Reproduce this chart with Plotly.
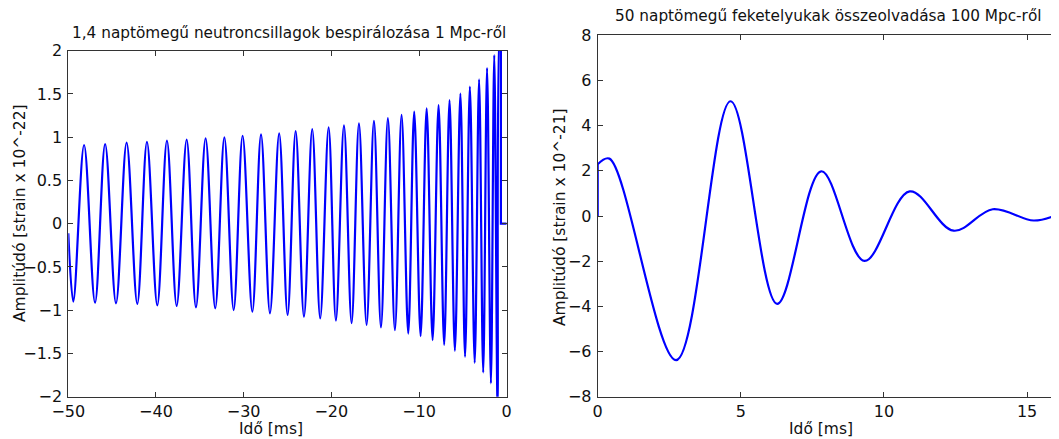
import plotly.graph_objects as go

# ---------------- data ----------------
# Left: neutron-star inspiral (time in ms, strain x 1e-22)
ns_start_t = [-50.0]
ns_start_v = [-0.11]
ns_peak_t = [-48.2, -45.8, -43.35, -41.03, -38.75, -36.5, -34.34, -32.2, -30.12,
             -28.02, -25.95, -24.07, -22.18, -20.31, -18.56, -16.85, -15.14,
             -13.55, -11.99, -10.55, -9.13, -7.77, -6.52, -5.28, -4.20, -3.15,
             -2.24, -1.42, -0.72]
ns_peak_v = [0.91, 0.921, 0.937, 0.945, 0.96, 0.971, 0.987, 0.999, 1.017,
             1.033, 1.045, 1.07, 1.095, 1.114, 1.137, 1.16, 1.19,
             1.22, 1.257, 1.295, 1.334, 1.372, 1.43, 1.505, 1.584, 1.67,
             1.80, 1.95, 2.3]
ns_trough_t = [-49.43, -46.95, -44.56, -42.13, -39.85, -37.64, -35.44, -33.24,
               -31.14, -29.01, -27.0, -24.99, -23.12, -21.27, -19.48, -17.69,
               -15.98, -14.34, -12.75, -11.23, -9.82, -8.45, -7.13, -5.91,
               -4.75, -3.65, -2.68, -1.80, -1.04]
ns_trough_v = [-0.90, -0.913, -0.92, -0.928, -0.944, -0.951, -0.967, -0.978,
               -0.998, -1.017, -1.036, -1.055, -1.075, -1.094, -1.12, -1.15,
               -1.17, -1.20, -1.23, -1.27, -1.30, -1.345, -1.40, -1.47,
               -1.54, -1.61, -1.72, -1.845, -2.1]
ns_tail_t = [-0.66, -0.66, 0.0]
ns_tail_v = [2.3, 0.0, 0.0]

# Right: black-hole merger ringdown (time in ms, strain x 1e-21)
bh_jump_t = [0.0, 0.0]
bh_jump_v = [0.0, 2.29]
bh_t = [0.0, 0.41, 2.74, 4.64, 6.27, 7.81, 9.32, 10.90, 12.43, 13.80, 15.23, 16.0]
bh_v = [2.29, 2.54, -6.38, 5.08, -3.89, 1.98, -1.99, 1.09, -0.65, 0.30, -0.20, 0.03]

left_title = "1,4 naptömegű neutroncsillagok bespirálozása 1 Mpc-ről"
right_title = "50 naptömegű feketelyukak összeolvadása 100 Mpc-ről"
x_label = "Idő [ms]"
left_ylabel = "Amplitúdó [strain x 10^-22]"
right_ylabel = "Amplitúdó [strain x 10^-21]"

# merge extrema in time order
pts = sorted(list(zip(ns_start_t, ns_start_v)) + list(zip(ns_peak_t, ns_peak_v)) +
             list(zip(ns_trough_t, ns_trough_v)))
pts.append((ns_tail_t[0], ns_tail_v[0]))
ns_t = [p[0] for p in pts]
ns_v = [p[1] for p in pts]

# the page body has an 8px margin, so the figure is drawn 8px in and shrunk to fit
OFF = 8
W, H = 1059 - OFF, 439 - OFF
FONT = "DejaVu Sans"
BLUE = "#0000ff"
AX = "#333333"

fig = go.Figure()
fig.add_trace(go.Scatter(x=ns_t, y=ns_v, mode="lines",
                         line=dict(color=BLUE, width=2.2, shape="spline", smoothing=1.0),
                         xaxis="x", yaxis="y", showlegend=False))
fig.add_trace(go.Scatter(x=ns_tail_t, y=ns_tail_v, mode="lines",
                         line=dict(color=BLUE, width=2.2),
                         xaxis="x", yaxis="y", showlegend=False))
fig.add_trace(go.Scatter(x=bh_jump_t, y=bh_jump_v, mode="lines",
                         line=dict(color=BLUE, width=2.2),
                         xaxis="x2", yaxis="y2", showlegend=False))
fig.add_trace(go.Scatter(x=bh_t, y=bh_v, mode="lines",
                         line=dict(color=BLUE, width=2.2, shape="spline", smoothing=1.0),
                         xaxis="x2", yaxis="y2", showlegend=False))


def px_x(p):
    return (p - OFF) / W


def px_y(p):
    return 1 - (p - OFF) / H


axis_common = dict(showgrid=False, zeroline=False, showline=True, linecolor=AX,
                   linewidth=1, mirror="ticks", ticks="inside", ticklen=5,
                   tickcolor=AX, tickwidth=1, automargin=False,
                   tickfont=dict(family=FONT, size=16, color="#111"))

fig.update_layout(
    width=W, height=H,
    margin=dict(l=0, r=0, t=0, b=0, pad=0),
    paper_bgcolor="white", plot_bgcolor="white",
    xaxis=dict(domain=[px_x(68.3), px_x(506.7)], range=[-50, 0], dtick=10,
               anchor="y", ticklabelstandoff=0, **axis_common),
    yaxis=dict(domain=[px_y(396.7), px_y(50.7)], range=[-2, 2], dtick=0.5,
               anchor="x", ticklabelstandoff=2, **axis_common),
    xaxis2=dict(domain=[px_x(597.7), px_x(1055.7)], range=[0, 16], dtick=5,
                anchor="y2", ticklabelstandoff=0, **axis_common),
    yaxis2=dict(domain=[px_y(396.7), px_y(35.3)], range=[-8, 8], dtick=2,
                anchor="x2", ticklabelstandoff=2, **axis_common),
)

title_font = dict(family=FONT, size=15.3, color="#111")
label_font = dict(family=FONT, size=15.5, color="#111")
annotations = [
    dict(text=left_title, x=px_x(289), y=px_y(33), showarrow=False,
         xanchor="center", yanchor="middle", font=title_font),
    dict(text=right_title, x=px_x(828), y=px_y(16), showarrow=False,
         xanchor="center", yanchor="middle", font=title_font),
    dict(text=x_label, x=px_x(271), y=px_y(429), showarrow=False,
         xanchor="center", yanchor="middle", font=label_font),
    dict(text=x_label, x=px_x(821), y=px_y(429), showarrow=False,
         xanchor="center", yanchor="middle", font=label_font),
    dict(text=left_ylabel, x=px_x(20), y=px_y(213), showarrow=False, textangle=-90,
         xanchor="center", yanchor="middle", font=label_font),
    dict(text=right_ylabel, x=px_x(560), y=px_y(217), showarrow=False, textangle=-90,
         xanchor="center", yanchor="middle", font=label_font),
]
for a in annotations:
    a["xref"] = "paper"
    a["yref"] = "paper"
fig.update_layout(annotations=annotations)

fig.write_html("out.html")
